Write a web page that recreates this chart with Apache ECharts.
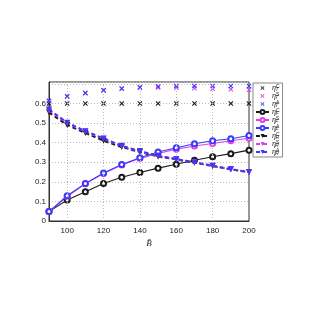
<!DOCTYPE html>
<html><head><meta charset="utf-8">
<script src="https://cdn.jsdelivr.net/npm/echarts@6/dist/echarts.min.js"></script>
<style>html,body{margin:0;padding:0;background:#fff}#c{width:328px;height:311px}</style>
</head><body><div id="c"></div>
<script>
const xs = [90,100,110,120,130,140,150,160,170,180,190,200];
const tC = [0.60,0.60,0.60,0.60,0.60,0.60,0.60,0.60,0.60,0.60,0.60,0.60];
const tS = [0.612,0.635,0.652,0.667,0.676,0.681,0.682,0.680,0.678,0.676,0.673,0.670];
const tA = [0.614,0.637,0.654,0.668,0.677,0.683,0.687,0.690,0.690,0.690,0.690,0.690];
const fC = [0.048,0.107,0.150,0.192,0.223,0.248,0.270,0.290,0.310,0.328,0.344,0.362];
const fS = [0.048,0.125,0.190,0.243,0.286,0.320,0.345,0.367,0.383,0.396,0.410,0.423];
const fA = [0.048,0.129,0.192,0.245,0.288,0.323,0.352,0.374,0.395,0.410,0.420,0.437];
const rC = [0.555,0.490,0.450,0.410,0.378,0.352,0.330,0.314,0.298,0.281,0.264,0.250];
const rS = [0.565,0.500,0.457,0.420,0.383,0.356,0.333,0.316,0.300,0.282,0.264,0.250];
const rA = [0.570,0.502,0.459,0.422,0.384,0.357,0.333,0.316,0.300,0.282,0.264,0.250];
const xGrid = [100,120,140,160,180];
const xTickLabels = [100,120,140,160,180,200];
const yTickLabels = [0,0.1,0.2,0.3,0.4,0.5,0.6];
const names = [['T','C'],['T','S'],['T','A'],['F','C'],['F','S'],['F','A'],['R','C'],['R','S'],['R','A']];

const BLACK='#1a1a1a', MAG='#e040e8', BLUE='#3a3aff';
const cross='path://M0,1.5L1.5,0L5,3.5L8.5,0L10,1.5L6.5,5L10,8.5L8.5,10L5,6.5L1.5,10L0,8.5L3.5,5Z';
const pts = a => xs.map((x,i)=>[x,a[i]]);
function crossS(i,d,c){return {name:'s'+i,type:'line',data:pts(d),symbol:cross,symbolSize:5,lineStyle:{width:0,opacity:0},itemStyle:{color:c},z:3};}
function solidS(i,d,c){return {name:'s'+i,type:'line',data:pts(d),symbol:'emptyCircle',symbolSize:5,lineStyle:{width:1.1,color:c},itemStyle:{color:c,borderWidth:1},z:4};}
function dashS(i,d,c){return {name:'s'+i,type:'line',data:pts(d),symbol:'triangle',symbolRotate:180,symbolSize:6,lineStyle:{width:2,type:[4,3],color:c},itemStyle:{color:c},z:5};}
const series=[crossS(0,tC,BLACK),crossS(1,tS,MAG),crossS(2,tA,BLUE),
 solidS(3,fC,BLACK),solidS(4,fS,MAG),solidS(5,fA,BLUE),
 dashS(6,rC,BLACK),dashS(7,rS,MAG),dashS(8,rA,BLUE)];
series.push({type:'line',data:[],silent:true,markLine:{symbol:'none',silent:true,label:{show:false},
  lineStyle:{type:[1,2],color:'#bbb',width:1},data:xGrid.map(v=>({xAxis:v}))}});
const chart=echarts.init(document.getElementById('c'),null,{renderer:'canvas'});
chart.setOption({
 animation:false,
 grid:{left:49,right:79,top:82,bottom:90,show:true,borderColor:'#333',borderWidth:1,backgroundColor:'transparent'},
 xAxis:{type:'value',min:90,max:200,interval:10,
   axisLine:{lineStyle:{color:'#333'}},axisTick:{show:false},splitLine:{show:false},
   axisLabel:{color:'#222',fontSize:8,fontFamily:'Liberation Sans',margin:6,
     formatter:v=>xTickLabels.includes(v)?String(v):''},
   name:'B\u0304',nameLocation:'middle',nameGap:18,nameTextStyle:{fontSize:9,fontStyle:'italic',color:'#222',fontFamily:'Liberation Serif'}},
 yAxis:{type:'value',min:0,max:0.71,interval:0.1,
   axisLine:{lineStyle:{color:'#333'}},axisTick:{show:false},
   splitLine:{lineStyle:{type:[1,2],color:'#bbb'}},
   axisLabel:{color:'#222',fontSize:8,fontFamily:'Liberation Sans',margin:3,showMaxLabel:false,
     formatter:v=>yTickLabels.some(t=>Math.abs(t-v)<1e-6)?(v===0?'0':v.toFixed(1)):''}},
 legend:{orient:'vertical',left:253,top:83,width:34,itemWidth:13,itemHeight:5,itemGap:0,
   padding:[1,3,1,2],backgroundColor:'#fff',borderColor:'#888',borderWidth:1,
   data:series.slice(0,9).map(s=>s.name),
   formatter:n=>{const k=+n.slice(1);return '{e|\u03b7}{s|'+names[k][1]+'}{b|'+names[k][0]+'}';},
   textStyle:{fontSize:7,color:'#222',lineHeight:8,padding:[0,0,0,-2],
     rich:{e:{fontSize:8,lineHeight:8,fontFamily:'Liberation Serif',fontStyle:'italic'},
           s:{fontSize:5,lineHeight:8,verticalAlign:'top',padding:[0,0,3,0],fontFamily:'Liberation Sans'},
           b:{fontSize:5,lineHeight:8,verticalAlign:'bottom',padding:[3,0,0,-4],fontStyle:'italic'}}}},
 series:series
});
</script></body></html>
